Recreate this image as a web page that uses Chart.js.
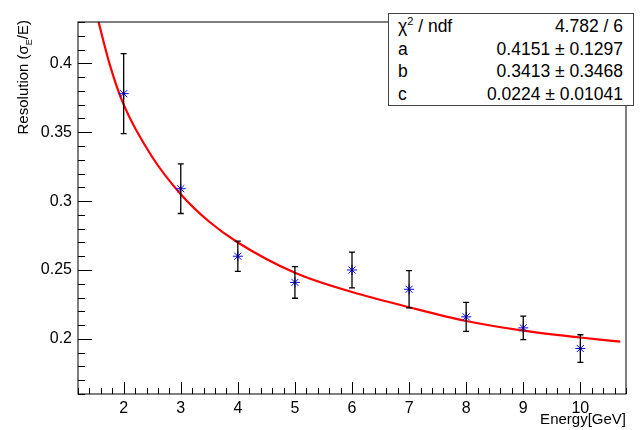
<!DOCTYPE html>
<html><head><meta charset="utf-8">
<script src="https://cdn.jsdelivr.net/npm/chart.js@4"></script>
<style>
html,body{margin:0;padding:0;background:#fff;}
#wrap{position:relative;width:640px;height:430px;}
#stats{position:absolute;left:388px;top:13px;width:246px;height:93px;border:1px solid #444;background:#fff;font-family:"Liberation Sans",Arial,sans-serif;font-size:17.5px;color:#000;box-sizing:border-box;padding:1px 10px 0 9px;}
#stats div{display:flex;justify-content:space-between;height:22.7px;line-height:22px;}
#stats sup{font-size:11px;line-height:0;vertical-align:7px;}
</style></head>
<body><div id="wrap"><canvas id="c" width="640" height="430"></canvas>
<div id="stats">
<div><span>χ<sup>2</sup> / ndf</span><span>4.782 / 6</span></div>
<div><span>a</span><span>0.4151 ± 0.1297</span></div>
<div><span>b</span><span>0.3413 ± 0.3468</span></div>
<div><span>c</span><span>0.0224 ± 0.01041</span></div>
</div></div>
<script>
const energy=[2,3,4,5,6,7,8,9,10];
const resolution=[0.378,0.309,0.260,0.241,0.250,0.236,0.216,0.208,0.193];
const resErr=[0.029,0.018,0.011,0.0115,0.013,0.0135,0.0105,0.0085,0.010];
const fitE=[1.5,1.75,2,2.5,3,3.5,4,5,6,7,8,9,10,10.7];
const fitR=[0.44,0.40,0.370,0.332,0.305,0.285,0.270,0.248,0.234,0.223,0.213,0.206,0.201,0.198];
const xTicks=[2,3,4,5,6,7,8,9,10];
const yTicks=[0.2,0.25,0.3,0.35,0.4];
const FONT='"Liberation Sans",Arial,sans-serif';
const rootPlugin={id:'root',
afterDatasetsDraw(ch){
 const ctx=ch.ctx,x=ch.scales.x,y=ch.scales.y;
 ctx.save();
 ctx.strokeStyle='#000';ctx.lineWidth=1.3;
 energy.forEach((e,i)=>{const px=x.getPixelForValue(e);
  const t=y.getPixelForValue(resolution[i]+resErr[i]),b=y.getPixelForValue(resolution[i]-resErr[i]);
  ctx.beginPath();ctx.moveTo(px,t);ctx.lineTo(px,b);
  ctx.moveTo(px-3,t);ctx.lineTo(px+3,t);ctx.moveTo(px-3,b);ctx.lineTo(px+3,b);ctx.stroke();});
 ctx.restore();
},
afterDraw(ch){
 const ctx=ch.ctx,x=ch.scales.x,y=ch.scales.y,a=ch.chartArea;
 ctx.save();
 ctx.strokeStyle='#000';ctx.lineWidth=1;
 ctx.strokeRect(a.left,a.top,a.right-a.left,a.bottom-a.top);
 ctx.beginPath();
 for(let v=1.2;v<=10.81;v+=0.2){const px=Math.round(x.getPixelForValue(v))+0.5;
  const major=Math.abs(v-Math.round(v))<0.01;const L=major?12:6;
  ctx.moveTo(px,a.bottom);ctx.lineTo(px,a.bottom-L);}
 for(let v=0.16;v<=0.431;v+=0.01){const py=Math.round(y.getPixelForValue(v))+0.5;
  const major=Math.abs(v*20-Math.round(v*20))<0.01;const L=major?14:7;
  ctx.moveTo(a.left,py);ctx.lineTo(a.left+L,py);}
 ctx.stroke();
 ctx.fillStyle='#000';ctx.font='16px '+FONT;
 ctx.textAlign='center';ctx.textBaseline='top';
 xTicks.forEach(v=>ctx.fillText(String(v),x.getPixelForValue(v),a.bottom+7));
 ctx.textAlign='right';ctx.textBaseline='middle';
 yTicks.forEach(v=>ctx.fillText(String(v),a.left-6,y.getPixelForValue(v)));
 ctx.font='15px '+FONT;ctx.textAlign='right';ctx.textBaseline='alphabetic';
 ctx.fillText('Energy[GeV]',a.right,424);
 ctx.translate(28,20);ctx.rotate(-Math.PI/2);
 ctx.textAlign='left';
 let s1='Resolution (σ';ctx.font='15px '+FONT;
 const w0=ctx.measureText(s1).width;ctx.font='9px '+FONT;const ws=ctx.measureText('E').width;
 ctx.font='15px '+FONT;const w2=ctx.measureText('/E)').width;
 let sx=-(w0+ws+w2);
 ctx.fillText(s1,sx,0);ctx.font='9px '+FONT;ctx.fillText('E',sx+w0,4);
 ctx.font='15px '+FONT;ctx.fillText('/E)',sx+w0+ws,0);
 ctx.restore();
}};
new Chart(document.getElementById('c'),{
 type:'scatter',
 data:{datasets:[
  {data:fitE.map((e,i)=>({x:e,y:fitR[i]})),showLine:true,borderColor:'#ff0000',borderWidth:2.2,pointRadius:0,cubicInterpolationMode:'monotone',fill:false,order:2},
  {data:energy.map((e,i)=>({x:e,y:resolution[i]})),pointStyle:'star',pointRadius:5,borderColor:'#0000ff',backgroundColor:'#0000ff',borderWidth:1,order:1}
 ]},
 options:{responsive:false,animation:false,devicePixelRatio:1,
  layout:{padding:{top:22,right:14,left:0,bottom:0}},
  plugins:{legend:{display:false},tooltip:{enabled:false}},
  scales:{
   x:{type:'linear',min:1.2,max:10.8,grid:{display:false},border:{display:false},ticks:{display:false},afterFit(s){s.height=36;}},
   y:{type:'linear',min:0.16,max:0.43,grid:{display:false},border:{display:false},ticks:{display:false},afterFit(s){s.width=78;}}
  }},
 plugins:[rootPlugin]
});
</script></body></html>
